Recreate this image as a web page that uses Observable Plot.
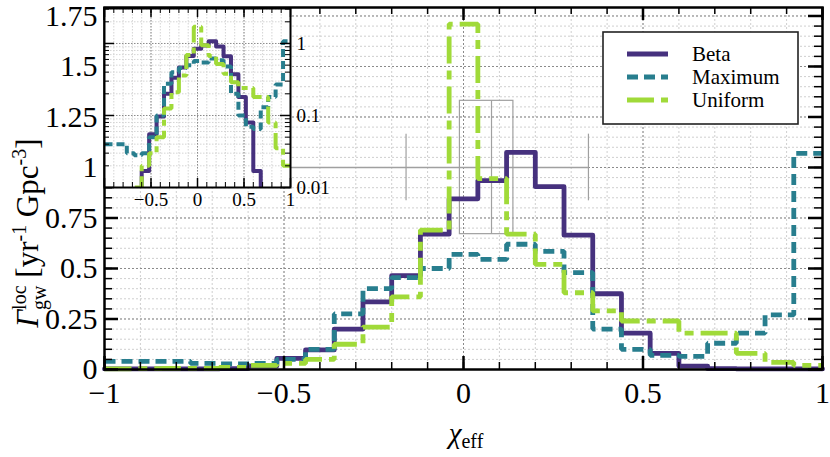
<!DOCTYPE html>
<html><head><meta charset="utf-8">
<script src="https://cdn.jsdelivr.net/npm/d3@7"></script>
<script src="https://cdn.jsdelivr.net/npm/@observablehq/plot@0.6"></script>
<style>
body{margin:0;background:#fff;}
#wrap{position:relative;width:830px;height:457px;overflow:hidden;}
#wrap svg{position:absolute;left:0;top:0;overflow:visible;}
</style></head><body><div id="wrap"></div>
<script>
// ---- data ----
const binEdges = [-1,-0.92,-0.84,-0.76,-0.68,-0.6,-0.52,-0.44,-0.36,-0.28,-0.2,-0.12,-0.04,0.04,0.12,0.2,0.28,0.36,0.44,0.52,0.6,0.68,0.76,0.84,0.92,1];
const seriesNames = ["Beta","Maximum","Uniform"];
const betaRate    = [0.003,0.003,0.003,0.003,0.004,0.017,0.055,0.097,0.2,0.335,0.465,0.67,0.845,0.935,1.075,0.905,0.665,0.375,0.18,0.08,0.017,0.004,0.003,0.003,0.003];
const maximumRate = [0.04,0.04,0.04,0.03,0.028,0.03,0.05,0.1,0.275,0.4,0.455,0.5,0.57,0.545,0.62,0.585,0.48,0.2,0.1,0.07,0.065,0.13,0.18,0.27,1.07];
const uniformRate = [0.003,0.004,0.006,0.006,0.01,0.02,0.03,0.05,0.125,0.21,0.36,0.69,1.71,0.945,0.67,0.52,0.38,0.29,0.24,0.24,0.18,0.18,0.08,0.035,0.02];
// box marker at rate 1: [lower whisker, q1, median, q3, upper whisker]
const boxStats = [-0.16,-0.01,0.078,0.139,0.348];
const boxLevel = 1;
const xTickLabels = [-1,-0.5,0,0.5,1];
const yTickLabels = [0,0.25,0.5,0.75,1,1.25,1.5,1.75];
const insetXTickLabels = [-0.5,0,0.5,1];
const insetYTickLabels = [0.01,0.1,1];

// ---- styles ----
const SERIF = "'Liberation Serif','DejaVu Serif',serif";
const style = {
  Beta:    {color:"#46317e", dash:null,       dashInset:null},
  Maximum: {color:"#287e8e", dash:"11,6",     dashInset:"8,4"},
  Uniform: {color:"#a0da39", dash:"27,7,9,7", dashInset:"18,5,6,5"}
};
const seriesValues = {Beta: betaRate, Maximum: maximumRate, Uniform: uniformRate};
function stepPoints(values){
  return binEdges.map((e,i)=>({x:e, y:values[Math.min(i, values.length-1)]}));
}
const fmt = d => (d<0 ? "\u2212" : "") + String(Math.abs(d));

const W=830, H=457, mL=104, mR=8, mT=7, mB=88;
const plotW = W-mL-mR, plotH = H-mT-mB;
const xMinor = d3.range(-10,11).map(i=>i/10);
const yMinor = d3.range(0,36).map(i=>i/20);

function lineMarks(dashKey, sw, clip){
  return seriesNames.map(n=>Plot.line(stepPoints(seriesValues[n]), {
    x:"x", y:"y", curve:"step-after", stroke:style[n].color, strokeWidth:sw,
    strokeDasharray: style[n][dashKey] || undefined,
    strokeLinejoin: n==="Beta" ? "round" : "miter",
    strokeLinecap: n==="Beta" ? "round" : "butt", clip
  }));
}

const [lo,q1,med,q3,hi] = boxStats;
const main = Plot.plot({
  width:W, height:H, marginLeft:mL, marginRight:mR, marginTop:mT, marginBottom:mB,
  x:{domain:[-1,1]}, y:{domain:[0,1.792]},
  style:{fontFamily:SERIF, fontSize:"30px", background:"transparent", color:"black"},
  marks:[
    Plot.ruleX(xMinor, {stroke:"#cfcfcf", strokeDasharray:"2,2"}),
    Plot.ruleY(yMinor, {stroke:"#cfcfcf", strokeDasharray:"2,2"}),
    Plot.ruleX([-0.5,0,0.5], {stroke:"#8a8a8a", strokeDasharray:"2,2"}),
    Plot.ruleY(yTickLabels, {stroke:"#8a8a8a", strokeDasharray:"2,2"}),
    // box marker
    Plot.ruleY([boxLevel], {x1:-1, x2:hi, stroke:"#a0a0a0", strokeWidth:1.3}),
    Plot.rect([boxStats], {x1:d=>d[1], x2:d=>d[3], y1:boxLevel-0.33, y2:boxLevel+0.33, fill:"none", stroke:"#a0a0a0", strokeWidth:1.2}),
    Plot.ruleX([med], {y1:boxLevel-0.33, y2:boxLevel+0.33, stroke:"#a0a0a0", strokeWidth:1.2}),
    Plot.ruleX([lo,hi], {y1:boxLevel-0.165, y2:boxLevel+0.165, stroke:"#a0a0a0", strokeWidth:1.2}),
    ...lineMarks("dash", 4.8, false),
    // ticks, all inward
    Plot.tickX(xMinor, {x:d=>d, insetTop:plotH-7, strokeWidth:1.5}),
    Plot.tickX(xMinor, {x:d=>d, insetBottom:plotH-7, strokeWidth:1.5}),
    Plot.tickX(xTickLabels, {x:d=>d, insetTop:plotH-13, strokeWidth:2.5}),
    Plot.tickX(xTickLabels, {x:d=>d, insetBottom:plotH-13, strokeWidth:2.5}),
    Plot.tickY(yMinor, {y:d=>d, insetRight:plotW-8, strokeWidth:1.5}),
    Plot.tickY(yMinor, {y:d=>d, insetLeft:plotW-8, strokeWidth:1.5}),
    Plot.tickY(yTickLabels, {y:d=>d, insetRight:plotW-14, strokeWidth:2.5}),
    Plot.tickY(yTickLabels, {y:d=>d, insetLeft:plotW-14, strokeWidth:2.5}),
    Plot.frame({strokeWidth:2.5}),
    Plot.axisX(xTickLabels, {tickSize:0, tickPadding:12, label:null, fontSize:30, tickFormat:fmt}),
    Plot.axisY(yTickLabels, {tickSize:0, tickPadding:7, label:null, fontSize:30, tickFormat:fmt})
  ]
});
document.getElementById("wrap").appendChild(main);

// ---- inset ----
const iL=104, iT=8, iW=186, iH=179, iWidth=345, iHeight=215;
const ixMinor = d3.range(-10,11).map(i=>i/10);
const iyMinor = [0.02,0.03,0.04,0.05,0.06,0.07,0.08,0.09,0.2,0.3,0.4,0.5,0.6,0.7,0.8,0.9,2,3];
const inset = Plot.plot({
  width:iWidth, height:iHeight, marginLeft:iL, marginRight:iWidth-iL-iW, marginTop:iT, marginBottom:iHeight-iT-iH,
  x:{domain:[-1,1]}, y:{type:"log", domain:[0.01,3.06]},
  style:{fontFamily:SERIF, fontSize:"19px", background:"transparent", color:"black"},
  marks:[
    Plot.frame({fill:"white", stroke:null}),
    Plot.ruleX(ixMinor, {stroke:"#d4d4d4", strokeDasharray:"1.5,1.5"}),
    Plot.ruleY(iyMinor, {stroke:"#d4d4d4", strokeDasharray:"1.5,1.5"}),
    Plot.ruleX([-0.5,0,0.5], {stroke:"#8a8a8a", strokeDasharray:"1.5,1.5"}),
    Plot.ruleY([0.1,1], {stroke:"#8a8a8a", strokeDasharray:"1.5,1.5"}),
    ...lineMarks("dashInset", 4, true),
    Plot.tickX(ixMinor, {x:d=>d, insetTop:iH-5, strokeWidth:1}),
    Plot.tickX(ixMinor, {x:d=>d, insetBottom:iH-5, strokeWidth:1}),
    Plot.tickX([-1,-0.5,0,0.5,1], {x:d=>d, insetTop:iH-9, strokeWidth:1.5}),
    Plot.tickX([-1,-0.5,0,0.5,1], {x:d=>d, insetBottom:iH-9, strokeWidth:1.5}),
    Plot.tickY(iyMinor, {y:d=>d, insetRight:iW-5, strokeWidth:1}),
    Plot.tickY(iyMinor, {y:d=>d, insetLeft:iW-5, strokeWidth:1}),
    Plot.tickY(insetYTickLabels, {y:d=>d, insetRight:iW-10, strokeWidth:1.5}),
    Plot.tickY(insetYTickLabels, {y:d=>d, insetLeft:iW-10, strokeWidth:1.5}),
    Plot.frame({strokeWidth:2}),
    Plot.axisX(insetXTickLabels, {tickSize:0, tickPadding:5, label:null, fontSize:19, tickFormat:fmt}),
    Plot.axisY(insetYTickLabels, {anchor:"right", tickSize:0, tickPadding:6, label:null, fontSize:19, tickFormat:fmt})
  ]
});
document.getElementById("wrap").appendChild(inset);

// ---- rich text labels & legend ----
const svg = d3.select(main);
function richText(parent, pieces, anchorX, anchorY, rotate){
  const g = parent.append("g").attr("transform", `translate(${anchorX},${anchorY}) rotate(${rotate})`)
    .style("font-family", SERIF).attr("text-anchor","start");
  let x = 0; let lastStart = 0;
  const nodes = [];
  pieces.forEach(p=>{
    const t = g.append("text").attr("y", p.dy||0).attr("text-anchor","start")
      .style("font-size", p.size+"px").style("white-space","pre")
      .style("font-style", p.italic ? "italic" : "normal").attr("fill","black").text(p.t);
    const start = p.stack ? lastStart : x;
    t.attr("x", start);
    const w = t.node().getComputedTextLength();
    if(!p.stack) lastStart = start;
    x = Math.max(x, start + w);
    nodes.push(t);
  });
  nodes.forEach(t=>t.attr("x", +t.attr("x") - x/2));
  return g;
}
richText(svg, [
  {t:"Γ", size:31, italic:true},
  {t:"loc", size:20, dy:-12},
  {t:"gw", size:20, dy:8, stack:true},
  {t:" [yr", size:31},
  {t:"-1", size:20, dy:-12},
  {t:" Gpc", size:31},
  {t:"-3", size:20, dy:-12},
  {t:"]", size:31}
], 38, 233, -90);
richText(svg, [
  {t:"χ", size:29, italic:true},
  {t:"eff", size:20, dy:5}
], 466, 443, 0);

// legend
const lg = svg.append("g").style("font-family", SERIF);
lg.append("rect").attr("x",603).attr("y",32).attr("width",195).attr("height",92)
  .attr("fill","white").attr("stroke","#222").attr("stroke-width",1.6);
seriesNames.forEach((n,i)=>{
  const y = 54 + i*23;
  lg.append("line").attr("x1",627).attr("x2",668).attr("y1",y).attr("y2",y)
    .attr("stroke", style[n].color).attr("stroke-width",4.8)
    .attr("stroke-dasharray", style[n].dash || null);
  lg.append("text").attr("x",692).attr("y",y).attr("dy","0.33em").attr("text-anchor","start")
    .style("font-size","21px").attr("fill","black").text(n);
});
</script></body></html>
